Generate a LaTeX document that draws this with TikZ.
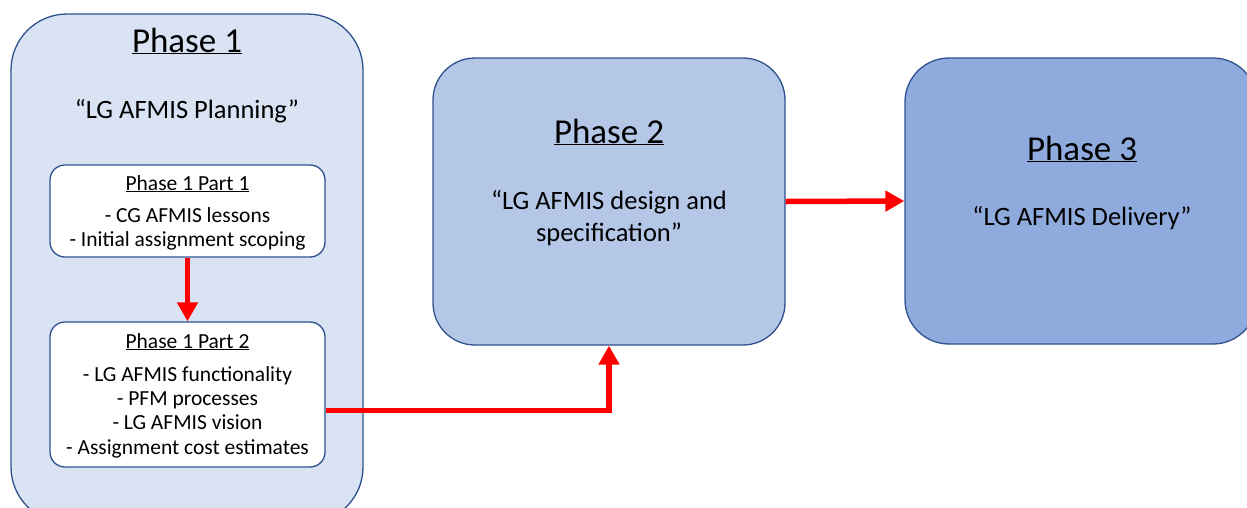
\documentclass[tikz,border=0pt]{standalone}
\usepackage{fontspec}
\setmainfont{Carlito}
\usetikzlibrary{arrows.meta}
\definecolor{pone}{HTML}{DAE3F3}
\definecolor{ptwo}{HTML}{B4C7E7}
\definecolor{pthree}{HTML}{8FAADC}
\definecolor{bord}{HTML}{2F528F}
\tikzset{
  phasebox/.style={draw=bord, line width=1.3pt, rounded corners=#1, inner sep=0pt},
  partbox/.style={draw=bord, line width=1.3pt, fill=white, rounded corners=15pt, inner sep=0pt, minimum width=275pt, minimum height=#1},
  bigtxt/.style={anchor=base, inner sep=0pt, font=\fontsize{35}{40}\selectfont},
  midtxt/.style={anchor=base, inner sep=0pt, font=\fontsize{26.5}{30}\selectfont},
  smalltxt/.style={anchor=base, inner sep=0pt, font=\fontsize{21.5}{24}\selectfont},
  redarrow/.style={draw=red, line width=5.5pt, -{Triangle[width=20pt,length=19pt]}},
}
\begin{document}
\begin{tikzpicture}[x=1pt,y=-1pt]
\useasboundingbox (0,0) rectangle (1247,507);
\clip (0,0) rectangle (1247,507);
% Phase boxes
\node[phasebox=56pt, fill=pone, minimum width=352pt, minimum height=509pt] (p1) at (187,268.5) {};
\node[phasebox=42pt, fill=ptwo, minimum width=352pt, minimum height=287pt] (p2) at (609,201.5) {};
\node[phasebox=44pt, fill=pthree, minimum width=352pt, minimum height=286pt] (p3) at (1081,201) {};
% Part boxes
\node[partbox=92pt] (b1) at (187.5,211) {};
\node[partbox=145pt] (b2) at (187.5,394.5) {};
% Phase 1 text
\node[bigtxt] (t1) at (187,52) {\underline{Phase 1}};
\node[midtxt] (t1s) at (187,118) {“LG AFMIS Planning”};
\node[smalltxt] (b1t) at (187.5,190) {\underline{Phase 1 Part 1}};
\node[smalltxt] (b1a) at (187.5,222) {- CG AFMIS lessons};
\node[smalltxt] (b1b) at (187.5,246.5) {- Initial assignment scoping};
\node[smalltxt] (b2t) at (187.5,348) {\underline{Phase 1 Part 2}};
\node[smalltxt] (b2a) at (187.5,381) {- LG AFMIS functionality};
\node[smalltxt] (b2b) at (187.5,405.5) {- PFM processes};
\node[smalltxt] (b2c) at (187.5,429.5) {- LG AFMIS vision};
\node[smalltxt] (b2d) at (187.5,454) {- Assignment cost estimates};
% Phase 2 text
\node[bigtxt] (t2) at (609,143) {\underline{Phase 2}};
\node[midtxt] (t2a) at (609,209) {“LG AFMIS design and};
\node[midtxt] (t2b) at (609,241.5) {specification”};
% Phase 3 text
\node[bigtxt] (t3) at (1082,160) {\underline{Phase 3}};
\node[midtxt] (t3a) at (1082,225) {“LG AFMIS Delivery”};
% Arrows
\coordinate (b2out) at ([yshift=-16pt]b2.east);
\draw[redarrow] (b1.south) -- (b2.north);
\draw[redarrow] (b2out) -| (p2.south);
\draw[redarrow] (p2.east) -- (p3.west);
\end{tikzpicture}
\end{document}
